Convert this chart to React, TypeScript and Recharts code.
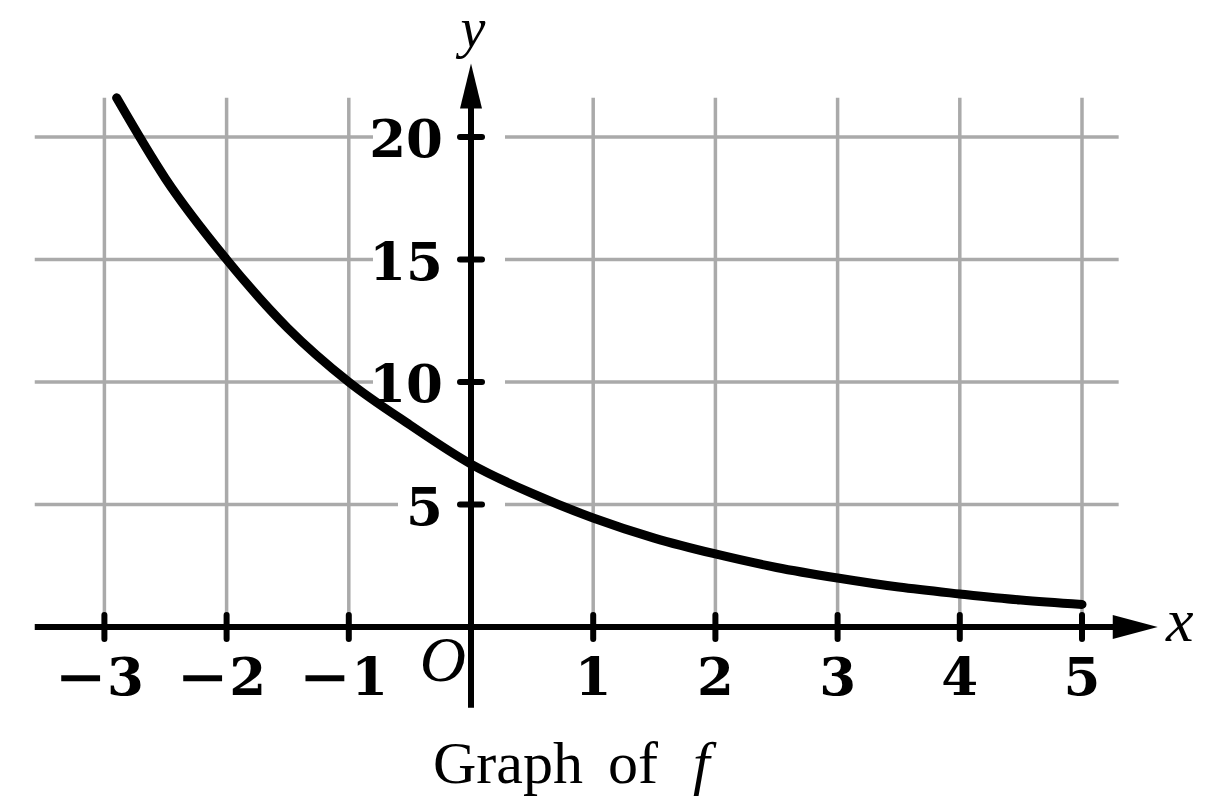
import { LineChart, Line, XAxis, YAxis, ReferenceLine, ReferenceDot, Customized } from 'recharts';

const curveX = [-2.9, -2.5, -2, -1.5, -1, -0.5, 0, 0.5, 1, 1.5, 2, 2.5, 3, 3.5, 4, 4.5, 5];
const curveY = [21.6, 18.3, 15.0, 12.2, 10.0, 8.25, 6.65, 5.45, 4.45, 3.63, 2.98, 2.43, 2.0, 1.63, 1.35, 1.1, 0.92];

const xTicks = [-3, -2, -1, 1, 2, 3, 4, 5];
const xTickLabels = ['3', '2', '1', '1', '2', '3', '4', '5'];
const yTicks = [5, 10, 15, 20];
const yTickLabels = ['5', '10', '15', '20'];

const data = curveX.map((x, i) => ({ x, y: curveY[i] }));

// layout
const W = 1216;
const H = 804;
const MARGIN = { top: 14.5, right: 48.46, bottom: 79, left: 18.86 };
const X_PX = 122.2;
const GRID_LEFT = -3.57;
const GRID_RIGHT = 5.3;
const GRID_TOP = 21.6;
const X_AXIS_END = 5.62;
const Y_AXIS_BOTTOM = -3.3;
const Y_AXIS_TOP = 23.0;

const GRID = '#aaaaaa';
const TICK_FONT = { fontFamily: '"DejaVu Serif", serif', fontWeight: 700, fontSize: 53, fill: '#000' };
const ITALIC_FONT = { fontFamily: '"Liberation Serif", serif', fontStyle: 'italic', fontSize: 62, fill: '#000' };

const XAxisShape = (p: any) => {
  const { x1, y1, x2 } = p;
  return (
    <g>
      <line x1={x1} y1={y1} x2={x2 - 40} y2={y1} stroke="#000" strokeWidth={6} />
      <polygon points={`${x2},${y1} ${x2 - 45},${y1 - 12} ${x2 - 45},${y1 + 12}`} fill="#000" />
      <text x={x2 + 22} y={y1 + 14} textAnchor="middle" style={ITALIC_FONT}>x</text>
    </g>
  );
};

const YAxisShape = (p: any) => {
  const { x1, y1, y2 } = p;
  const top = Math.min(y1, y2);
  const bottom = Math.max(y1, y2);
  return (
    <g>
      <line x1={x1} y1={bottom} x2={x1} y2={top + 40} stroke="#000" strokeWidth={6} />
      <polygon points={`${x1},${top} ${x1 - 11},${top + 45} ${x1 + 11},${top + 45}`} fill="#000" />
      <text x={x1 + 2} y={top - 17} textAnchor="middle" style={{ ...ITALIC_FONT, fontSize: 56 }}>y</text>
    </g>
  );
};

const Caption = () => (
  <text y={783} style={{ fontFamily: '"Liberation Serif", serif', fontSize: 60, fill: '#000' }}>
    <tspan x={433}>Graph</tspan>
    <tspan x={608}>of</tspan>
    <tspan x={693} fontStyle="italic">f</tspan>
  </text>
);

export default function App() {
  return (
    <>
      <style>{'body{margin:0}'}</style>
      <LineChart width={W} height={H} data={data} margin={MARGIN}>
        <XAxis type="number" dataKey="x" domain={[-3.7, 5.7]} allowDataOverflow hide />
        <YAxis type="number" dataKey="y" domain={[-4, 25]} allowDataOverflow hide />

        {xTicks.map((t) => (
          <ReferenceLine
            key={`gx${t}`}
            segment={[{ x: t, y: 0 }, { x: t, y: GRID_TOP }]}
            stroke={GRID}
            strokeWidth={3.5}
            ifOverflow="visible"
          />
        ))}
        {yTicks.map((t, i) => (
          <ReferenceLine
            key={`gyl${t}`}
            segment={[{ x: GRID_LEFT, y: t }, { x: -(48 + 25 * yTickLabels[i].length) / X_PX, y: t }]}
            stroke={GRID}
            strokeWidth={3.5}
            ifOverflow="visible"
          />
        ))}
        {yTicks.map((t) => (
          <ReferenceLine
            key={`gyr${t}`}
            segment={[{ x: 34 / X_PX, y: t }, { x: GRID_RIGHT, y: t }]}
            stroke={GRID}
            strokeWidth={3.5}
            ifOverflow="visible"
          />
        ))}

        <ReferenceLine
          segment={[{ x: GRID_LEFT, y: 0 }, { x: X_AXIS_END, y: 0 }]}
          shape={XAxisShape}
          ifOverflow="visible"
        />
        <ReferenceLine
          segment={[{ x: 0, y: Y_AXIS_BOTTOM }, { x: 0, y: Y_AXIS_TOP }]}
          shape={YAxisShape}
          ifOverflow="visible"
        />

        {xTicks.map((t, i) => (
          <ReferenceDot
            key={`tx${t}`}
            x={t}
            y={0}
            r={1}
            ifOverflow="visible"
            shape={(p: any) => (
              <g>
                <line x1={p.cx} y1={p.cy - 12} x2={p.cx} y2={p.cy + 12} stroke="#000" strokeWidth={6} strokeLinecap="round" />
                {t < 0 ? (
                  <>
                    <text x={p.cx - 50} y={p.cy + 68} textLength={52} lengthAdjust="spacingAndGlyphs" style={TICK_FONT}>
                      {'\u2212'}
                    </text>
                    <text x={p.cx + 21} y={p.cy + 68} textAnchor="middle" style={TICK_FONT}>
                      {xTickLabels[i]}
                    </text>
                  </>
                ) : (
                  <text x={p.cx} y={p.cy + 68} textAnchor="middle" style={TICK_FONT}>
                    {xTickLabels[i]}
                  </text>
                )}
              </g>
            )}
          />
        ))}
        {yTicks.map((t, i) => (
          <ReferenceDot
            key={`ty${t}`}
            x={0}
            y={t}
            r={1}
            ifOverflow="visible"
            shape={(p: any) => (
              <g>
                <line x1={p.cx - 11} y1={p.cy} x2={p.cx + 11} y2={p.cy} stroke="#000" strokeWidth={6} strokeLinecap="round" />
                <text x={p.cx - 28} y={p.cy + 20} textAnchor="end" style={TICK_FONT}>
                  {yTickLabels[i]}
                </text>
              </g>
            )}
          />
        ))}
        <ReferenceDot
          x={0}
          y={0}
          r={1}
          ifOverflow="visible"
          shape={(p: any) => (
            <text x={p.cx - 5} y={p.cy + 54} textAnchor="end" style={{ ...ITALIC_FONT, fontSize: 64 }}>O</text>
          )}
        />

        <Line
          type="monotone"
          dataKey="y"
          stroke="#000"
          strokeWidth={9}
          strokeLinecap="round"
          dot={false}
          isAnimationActive={false}
        />

        <Customized component={<Caption />} />
      </LineChart>
    </>
  );
}
